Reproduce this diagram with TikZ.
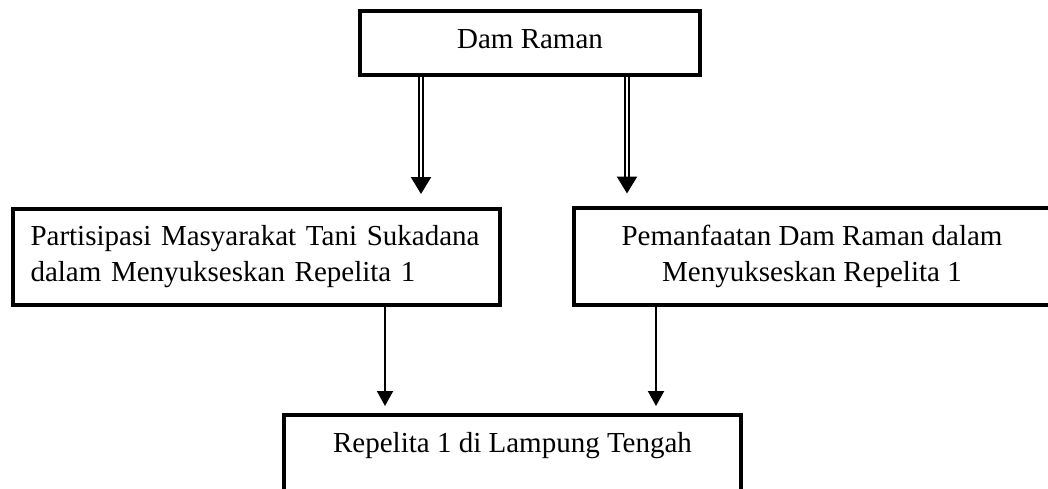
\documentclass[tikz,border=0pt]{standalone}
\usepackage{fontspec}
\setmainfont{Liberation Serif}
\usetikzlibrary{arrows.meta}
\tikzset{
  boxnode/.style={draw=black, line width=4pt, rectangle, inner sep=0pt, fill=white,
    font=\fontsize{29}{36}\selectfont},
  dblarrow/.style={double=white, draw=black, double distance=2.2pt, line width=2.2pt,
    -{Triangle[width=20pt,length=17pt]}},
  sglarrow/.style={draw=black, line width=2pt, -{Triangle[width=16pt,length=15pt]}}
}
\begin{document}
\begin{tikzpicture}[x=1pt,y=-1pt]
\useasboundingbox (0,0) rectangle (1048,488);
\clip (0,0) rectangle (1048,488);
\node[boxnode, minimum width=340pt, minimum height=64pt, text height=20pt, text depth=10pt] (top) at (530,43) {Dam Raman};
\node[boxnode, minimum width=487pt, minimum height=96pt, align=left, text width=452pt] (left) at (256.5,257) {Partisipasi Masyarakat Tani Sukadana\\dalam Menyukseskan Repelita 1};
\node[boxnode, minimum width=476pt, minimum height=97pt, align=center] (right) at (812,256.5) {Pemanfaatan Dam Raman dalam\\Menyukseskan Repelita 1};
\node[boxnode, minimum width=457pt, minimum height=96pt, text height=0pt, text depth=22pt] (bottom) at (512.5,463) {Repelita 1 di Lampung Tengah};
\draw[dblarrow, shorten >=13pt] ([xshift=-109pt]top.south) -- ([xshift=-109pt]top.south |- left.north);
\draw[dblarrow, shorten >=12.5pt] ([xshift=97pt]top.south) -- ([xshift=97pt]top.south |- right.north);
\draw[sglarrow, shorten >=7pt] ([xshift=128.5pt]left.south) -- ([xshift=128.5pt]left.south |- bottom.north);
\draw[sglarrow, shorten >=7pt] ([xshift=-156pt]right.south) -- ([xshift=-156pt]right.south |- bottom.north);
\end{tikzpicture}
\end{document}
